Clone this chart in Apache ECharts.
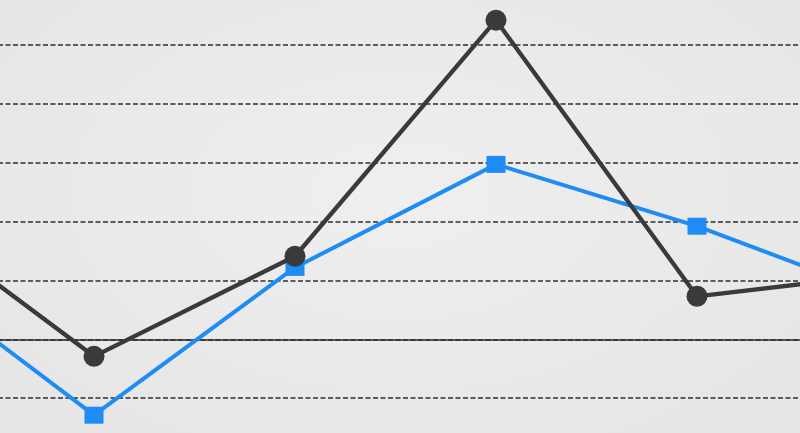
<!DOCTYPE html>
<html>
<head>
<meta charset="utf-8">
<script src="https://cdn.jsdelivr.net/npm/echarts@6/dist/echarts.min.js"></script>
<style>
  html, body { margin: 0; padding: 0; width: 800px; height: 433px; overflow: hidden; background: #e8e8e8; }
  #wrap { position: relative; width: 800px; height: 433px; overflow: hidden;
          background: radial-gradient(ellipse at 50% 45%, #efefef 0%, #e5e5e5 100%); }
  /* the plot runs past every edge of the photo, so the canvas is bigger than the window */
  #chart { position: absolute; left: -107px; top: -14px; width: 1005px; height: 471px; }
</style>
</head>
<body>
<div id="wrap"><div id="chart"></div></div>
<script>
// categories run past both edges of the picture (first and last are off-canvas)
var categories = ['P0', 'P1', 'P2', 'P3', 'P4', 'P5'];
var darkValues = [2.26, -0.29, 1.41, 5.42, 0.73, 1.13];
var blueValues = [1.29, -1.29, 1.22, 2.97, 1.92, 0.64];

var chart = echarts.init(document.getElementById('chart'));

var option = {
  backgroundColor: 'transparent',
  animation: false,
  grid: { left: 0, right: 0, top: 0, bottom: 0 },
  xAxis: {
    type: 'category',
    data: categories,
    boundaryGap: false,
    axisLine: { onZero: true, lineStyle: { color: '#2e2e2e', width: 1.5 } },
    axisTick: { show: false },
    axisLabel: { show: false },
    splitLine: { show: false }
  },
  yAxis: {
    type: 'value',
    min: -2,
    max: 6,
    interval: 1,
    axisLine: { show: false },
    axisTick: { show: false },
    axisLabel: { show: false },
    splitLine: {
      lineStyle: { color: '#2f2f2f', width: 1.7, type: [5, 2.5] }
    }
  },
  series: [
    {
      name: 'blue',
      type: 'line',
      data: blueValues,
      symbol: 'rect',
      symbolSize: [19, 17],
      itemStyle: { color: '#1f8cf5' },
      lineStyle: { color: '#1f8cf5', width: 4 },
      z: 3
    },
    {
      name: 'dark',
      type: 'line',
      data: darkValues,
      symbol: 'circle',
      symbolSize: 21,
      itemStyle: { color: '#3a3a3c' },
      lineStyle: { color: '#3a3a3c', width: 4.3 },
      z: 4
    }
  ]
};

chart.setOption(option);
</script>
</body>
</html>
